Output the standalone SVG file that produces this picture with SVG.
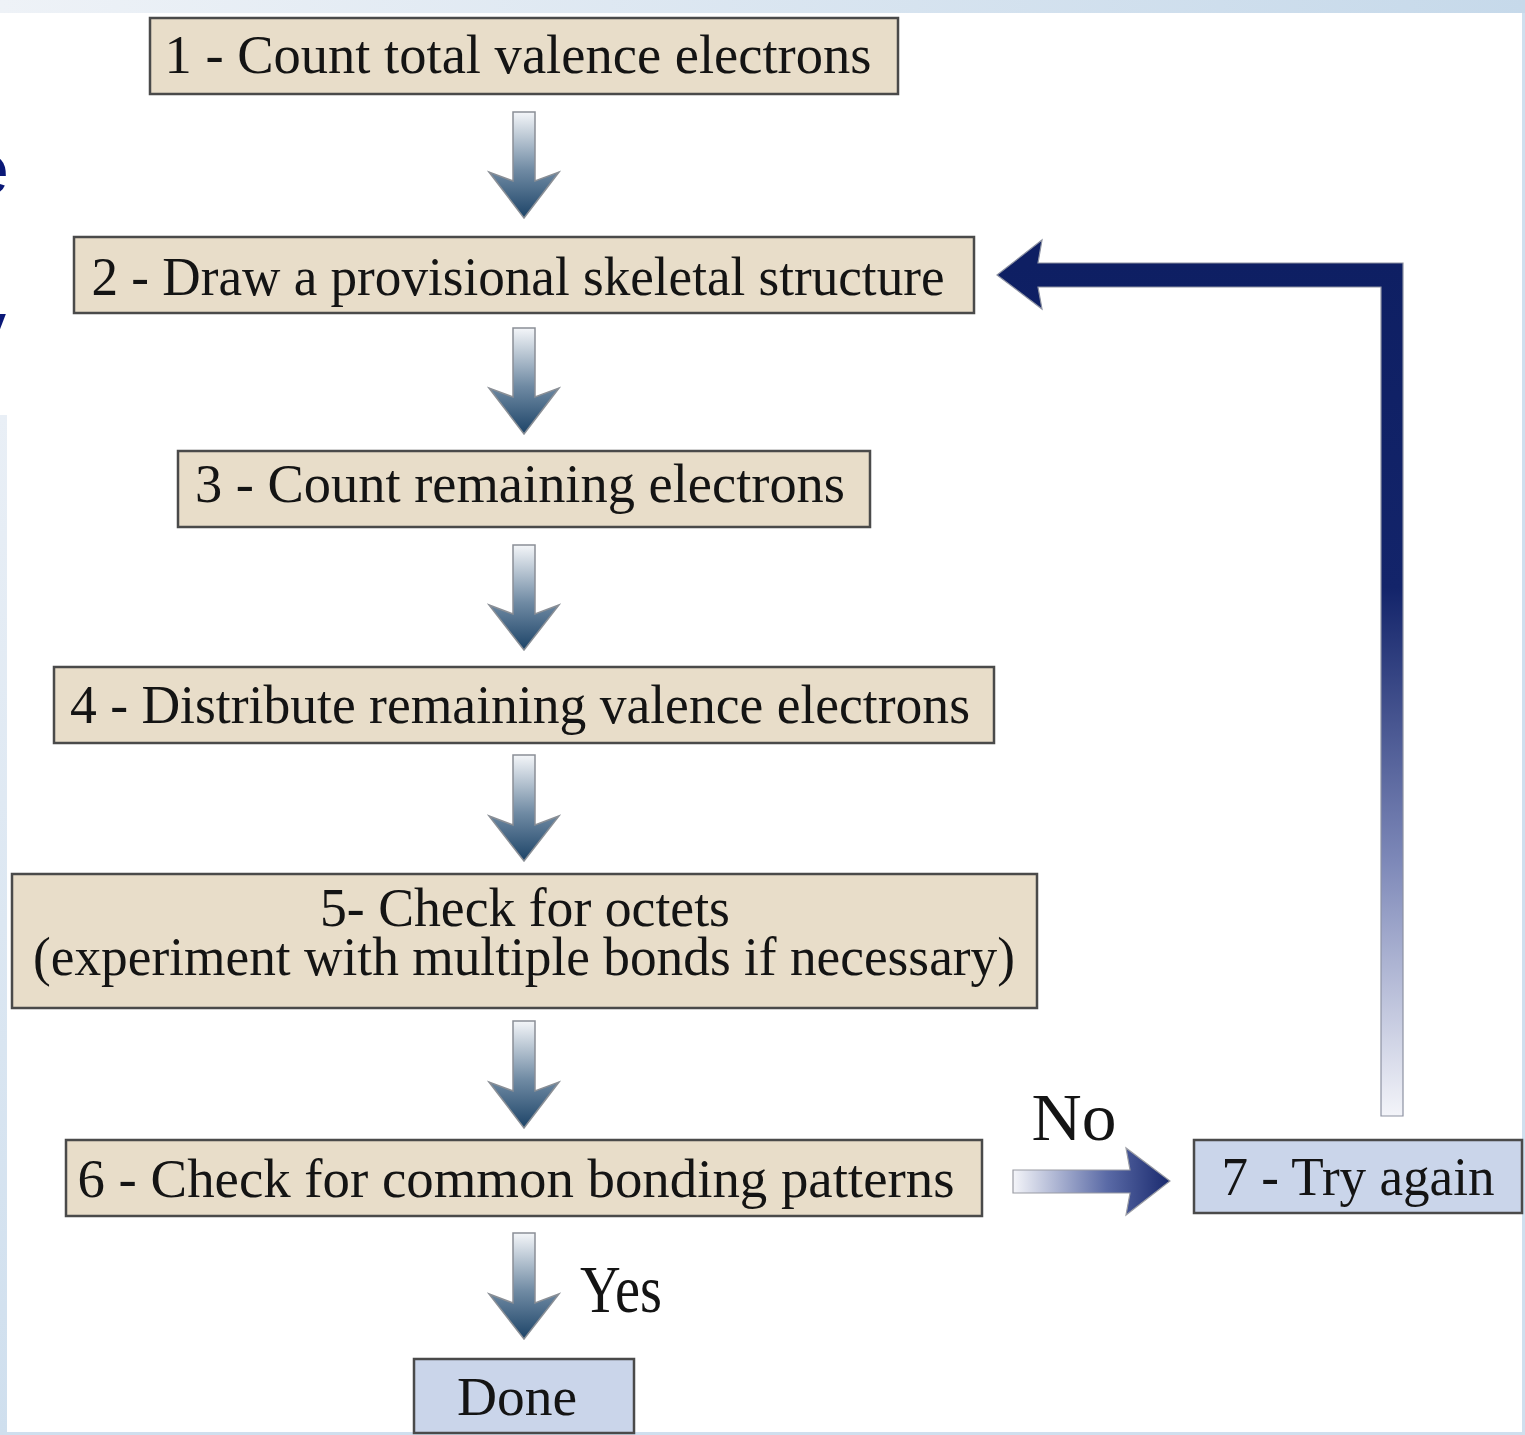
<svg xmlns="http://www.w3.org/2000/svg" width="1525" height="1435" viewBox="0 0 1525 1435">
<style>
.box{fill:#e8ddc9;stroke:#4a4a4a;stroke-width:2.5}
.blue{fill:#cad5ea;stroke:#4a4a4a;stroke-width:2.5}
.t{font-family:"Liberation Serif","Times New Roman",serif;font-size:54px;fill:#141414;text-anchor:middle}
.lbl{font-family:"Liberation Serif","Times New Roman",serif;font-size:68px;fill:#141414;text-anchor:middle}
.frag{font-family:"Liberation Sans",Arial,sans-serif;font-size:72px;fill:#0a1877}
.down{fill:url(#gDown);stroke:#8a8f96;stroke-width:1.5}
</style>
<defs>
<linearGradient id="gDown" x1="0" y1="0" x2="0" y2="1">
<stop offset="0" stop-color="#f4f6f9"/>
<stop offset="0.55" stop-color="#6f8aa3"/>
<stop offset="1" stop-color="#1d4468"/>
</linearGradient>
<linearGradient id="gNo" x1="1013" y1="0" x2="1170" y2="0" gradientUnits="userSpaceOnUse">
<stop offset="0" stop-color="#f4f5f9"/>
<stop offset="0.6" stop-color="#5a6aa6"/>
<stop offset="1" stop-color="#1a2a6e"/>
</linearGradient>
<linearGradient id="gLoop" x1="0" y1="264" x2="0" y2="1116" gradientUnits="userSpaceOnUse">
<stop offset="0" stop-color="#0e1f63"/>
<stop offset="0.38" stop-color="#13246a"/>
<stop offset="0.7" stop-color="#7d88b8"/>
<stop offset="1" stop-color="#f3f4f9"/>
</linearGradient>
<linearGradient id="gTop" x1="0" y1="0" x2="1" y2="0">
<stop offset="0" stop-color="#eef2f7"/>
<stop offset="1" stop-color="#c6d9ea"/>
</linearGradient>
<linearGradient id="gLeft" x1="0" y1="0" x2="0" y2="1">
<stop offset="0" stop-color="#e9eff6"/>
<stop offset="1" stop-color="#cfdfee"/>
</linearGradient>
</defs>

<g id="background">
<rect x="0" y="0" width="1525" height="1435" fill="#ffffff"/>
<rect x="0" y="0" width="1525" height="13" fill="url(#gTop)"/>
<rect x="0" y="415" width="7" height="1020" fill="url(#gLeft)"/>
<rect x="1522" y="13" width="3" height="1422" fill="#cfdfee"/>
<rect x="0" y="1432" width="1525" height="3" fill="#cfdfee"/>
<text class="frag" x="-31" y="194">e</text>
<text class="frag" x="-30" y="352">y</text>
</g>

<g id="connectors">
<path class="down" d="M513,112 H535 V181 L559,172 L524,218 L489,172 L513,181 Z"/>
<path class="down" d="M513,328 H535 V397 L559,388 L524,434 L489,388 L513,397 Z"/>
<path class="down" d="M513,545 H535 V614 L559,605 L524,650 L489,605 L513,614 Z"/>
<path class="down" d="M513,755 H535 V825 L559,816 L524,861 L489,816 L513,825 Z"/>
<path class="down" d="M513,1021 H535 V1091 L559,1082 L524,1128 L489,1082 L513,1091 Z"/>
<path class="down" d="M513,1233 H535 V1303 L559,1294 L524,1339 L489,1294 L513,1303 Z"/>
<path d="M1013,1170 H1130 L1126,1148 L1170,1181 L1126,1215 L1130,1193 H1013 Z" fill="url(#gNo)" stroke="#9a9ca4" stroke-width="1.2"/>
<path d="M1381,1116 V287 H1038 L1042,309 L997,275 L1042,240 L1038,263 H1403 V1116 Z" fill="url(#gLoop)" stroke="#8d92a2" stroke-width="1.2"/>
<text class="lbl" x="1074" y="1140" textLength="85" lengthAdjust="spacingAndGlyphs">No</text>
<text class="lbl" x="621" y="1312" textLength="82" lengthAdjust="spacingAndGlyphs">Yes</text>
</g>

<g id="node1">
<rect class="box" x="150" y="18" width="748" height="76"/>
<text class="t" x="518" y="73" textLength="707" lengthAdjust="spacingAndGlyphs">1 - Count total valence electrons</text>
</g>
<g id="node2">
<rect class="box" x="74" y="237" width="900" height="76"/>
<text class="t" x="518" y="295" textLength="853" lengthAdjust="spacingAndGlyphs">2 - Draw a provisional skeletal structure</text>
</g>
<g id="node3">
<rect class="box" x="178" y="451" width="692" height="76"/>
<text class="t" x="520" y="502" textLength="650" lengthAdjust="spacingAndGlyphs">3 - Count remaining electrons</text>
</g>
<g id="node4">
<rect class="box" x="54" y="667" width="940" height="76"/>
<text class="t" x="520" y="723" textLength="900" lengthAdjust="spacingAndGlyphs">4 - Distribute remaining valence electrons</text>
</g>
<g id="node5">
<rect class="box" x="12" y="874" width="1025" height="134"/>
<text class="t" x="525" y="926" textLength="410" lengthAdjust="spacingAndGlyphs">5- Check for octets</text>
<text class="t" x="524" y="975" textLength="982" lengthAdjust="spacingAndGlyphs">(experiment with multiple bonds if necessary)</text>
</g>
<g id="node6">
<rect class="box" x="66" y="1140" width="916" height="76"/>
<text class="t" x="516" y="1197" textLength="877" lengthAdjust="spacingAndGlyphs">6 - Check for common bonding patterns</text>
</g>
<g id="node7">
<rect class="blue" x="1194" y="1140" width="328" height="73"/>
<text class="t" x="1358" y="1195" textLength="273" lengthAdjust="spacingAndGlyphs">7 - Try again</text>
</g>
<g id="done">
<rect class="blue" x="414" y="1359" width="220" height="74"/>
<text class="t" x="517" y="1415" textLength="120" lengthAdjust="spacingAndGlyphs">Done</text>
</g>
</svg>
